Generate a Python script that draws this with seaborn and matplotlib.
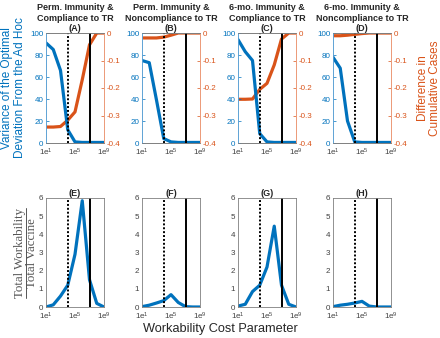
import matplotlib
matplotlib.use('Agg')
import matplotlib.pyplot as plt
import seaborn as sns

# ---------------- data ----------------
cost = [1e1, 1e2, 1e3, 1e4, 1e5, 1e6, 1e7, 1e8, 1e9]

top_headings = ["Perm. Immunity &\nCompliance to TR",
                "Perm. Immunity &\nNoncompliance to TR",
                "6-mo. Immunity &\nCompliance to TR",
                "6-mo. Immunity &\nNoncompliance to TR"]
top_letters = ["(A)", "(B)", "(C)", "(D)"]
bottom_letters = ["(E)", "(F)", "(G)", "(H)"]

variance_A = [91, 85, 66, 12, 1, 0.5, 0.5, 0.5, 0.5]
variance_B = [75, 73, 39, 4, 1, 0.5, 0.5, 0.5, 0.5]
variance_C = [94, 83, 75, 8.5, 1, 0.5, 0.5, 0.5, 0.5]
variance_D = [78, 68, 20, 1, 0.5, 0.5, 0.5, 0.5, 0.5]

diff_A = [-0.342, -0.342, -0.340, -0.317, -0.287, -0.170, -0.043, 0, 0]
diff_B = [-0.018, -0.018, -0.018, -0.015, -0.008, 0, 0, 0, 0]
diff_C = [-0.241, -0.241, -0.240, -0.205, -0.183, -0.116, -0.022, 0, 0]
diff_D = [-0.010, -0.010, -0.008, -0.005, -0.002, 0, 0, 0, 0]

ratio_E = [0, 0.12, 0.6, 1.2, 2.9, 5.85, 1.5, 0.2, 0]
ratio_F = [0.02, 0.1, 0.22, 0.35, 0.68, 0.25, 0.02, 0, 0]
ratio_G = [0.05, 0.15, 0.85, 1.2, 2.2, 4.45, 1.2, 0.15, 0]
ratio_H = [0.02, 0.1, 0.15, 0.22, 0.31, 0.05, 0, 0, 0]

dotted_cost = 1e4
solid_cost = 1e7

x_ticks = [1e1, 1e5, 1e9]
x_ticklabels = ['1e$^{1}$', '1e$^{5}$', '1e$^{9}$']
left_ticks = [0, 20, 40, 60, 80, 100]
right_ticks = [0, -0.1, -0.2, -0.3, -0.4]
right_ticklabels = ['0', '-0.1', '-0.2', '-0.3', '-0.4']
bottom_ticks = [0, 1, 2, 3, 4, 5, 6]

variances = [variance_A, variance_B, variance_C, variance_D]
diffs = [diff_A, diff_B, diff_C, diff_D]
ratios = [ratio_E, ratio_F, ratio_G, ratio_H]

# ---------------- style ----------------
sns.set_style('white')
plt.rcParams['font.family'] = ['Liberation Sans', 'DejaVu Sans']
plt.rcParams['mathtext.fontset'] = 'custom'
plt.rcParams['mathtext.rm'] = 'Liberation Sans'
plt.rcParams['mathtext.it'] = 'Liberation Sans:italic'
plt.rcParams['mathtext.bf'] = 'Liberation Sans:bold'

BLUE = '#0072BD'
ORANGE = '#D95319'
GRAY = '#404040'
SPINE = '#7f7f7f'
LW = 2.3
TICK_FS = 5.8

fig = plt.figure(figsize=(4.4, 3.38), dpi=100)
W, H = 440, 338
lefts = [46, 142, 238, 333]
aw = 58


def rect(x0, y_top, y_bot):
    return [x0 / W, 1 - y_bot / H, aw / W, (y_bot - y_top) / H]


def style_x(ax):
    ax.set_xscale('log')
    ax.set_xlim(1e1, 1e9)
    ax.set_xticks(x_ticks)
    ax.set_xticklabels(x_ticklabels)
    ax.minorticks_off()
    ax.tick_params(axis='x', direction='in', length=2, width=0.5,
                   labelsize=TICK_FS, colors=GRAY, pad=2.5)
    ax.set_xlabel('')


for i in range(4):
    # ---- top row ----
    ax = fig.add_axes(rect(lefts[i], 33, 143))
    sns.lineplot(x=cost, y=variances[i], ax=ax, color=BLUE, linewidth=LW)
    ax.axvline(dotted_cost, color='black', linestyle=(0, (1, 1)), linewidth=1.4)
    ax.axvline(solid_cost, color='black', linewidth=1.4)
    style_x(ax)
    ax.set_ylim(0, 100)
    ax.set_yticks(left_ticks)
    ax.tick_params(axis='y', direction='in', length=2, width=0.5,
                   labelsize=TICK_FS, colors=BLUE, pad=2)
    ax.set_ylabel('')
    ax2 = ax.twinx()
    sns.lineplot(x=cost, y=diffs[i], ax=ax2, color=ORANGE, linewidth=LW)
    ax2.set_ylim(-0.4, 0)
    ax2.set_yticks(right_ticks)
    ax2.set_yticklabels(right_ticklabels)
    ax2.tick_params(axis='y', direction='in', length=2, width=0.5,
                    labelsize=TICK_FS, colors=ORANGE, pad=2)
    ax2.set_ylabel('')
    ax2.set_zorder(ax.get_zorder() - 1)
    ax.patch.set_visible(False)
    for a in (ax, ax2):
        a.spines['top'].set_color(SPINE)
        a.spines['bottom'].set_color(SPINE)
        a.spines['left'].set_color('#5fa3d6')
        a.spines['right'].set_color('#ec9a78')
        for s in a.spines.values():
            s.set_linewidth(0.6)
    ax.set_title(top_letters[i], fontsize=6.5, fontweight='bold', pad=1.5)
    fig.text((lefts[i] + aw / 2) / W, 1 - 3 / H, top_headings[i],
             ha='center', va='top', fontsize=6.5, fontweight='bold',
             linespacing=1.25)
    if i == 0:
        ax.set_ylabel('Variance of the Optimal\nDeviation From the Ad Hoc',
                      color=BLUE, fontsize=8.5, linespacing=1.05, labelpad=3)
    if i == 3:
        ax2.set_ylabel('Difference in\nCumulative Cases', color=ORANGE,
                       fontsize=8.5, linespacing=1.0, labelpad=7)

    # ---- bottom row ----
    bx = fig.add_axes(rect(lefts[i], 198, 307))
    sns.lineplot(x=cost, y=ratios[i], ax=bx, color=BLUE, linewidth=LW)
    bx.axvline(dotted_cost, color='black', linestyle=(0, (1, 1)), linewidth=1.4)
    bx.axvline(solid_cost, color='black', linewidth=1.4)
    style_x(bx)
    bx.set_ylim(0, 6)
    bx.set_yticks(bottom_ticks)
    bx.tick_params(axis='y', direction='in', length=2, width=0.5,
                   labelsize=TICK_FS, colors=GRAY, pad=2)
    bx.set_ylabel('')
    for s in bx.spines.values():
        s.set_color(SPINE)
        s.set_linewidth(0.6)
    bx.set_title(bottom_letters[i], fontsize=6.5, fontweight='bold', pad=1.5)

# fraction-style y label of the bottom row
yc = 1 - 253 / H
fig.text(20.5 / W, yc, 'Total Workability', rotation=90, ha='center',
         va='center', fontsize=9.3, color='#555555', family='Liberation Serif')
fig.add_artist(plt.Line2D([26 / W, 26 / W], [1 - 298 / H, 1 - 208 / H],
                          color='#555555', linewidth=0.7))
fig.text(31.5 / W, yc, 'Total Vaccine', rotation=90, ha='center',
         va='center', fontsize=9.3, color='#555555', family='Liberation Serif')

fig.text(220 / W, 1 - 329 / H, 'Workability Cost Parameter', ha='center',
         va='center', fontsize=9.2, color='#262626')

fig.savefig('out.png', dpi=100)
